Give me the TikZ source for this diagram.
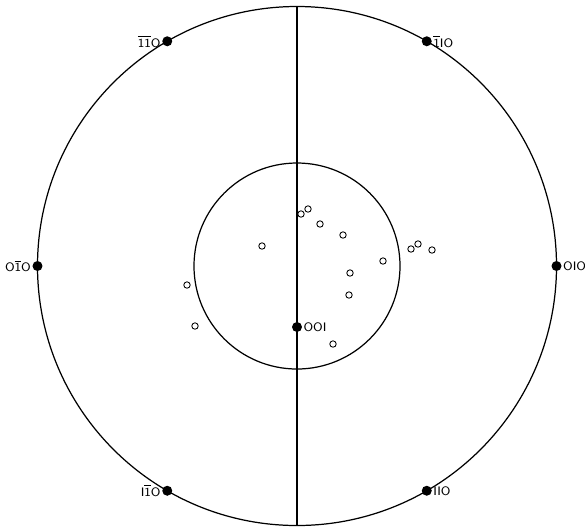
\documentclass[tikz,border=0pt]{standalone}
\usepackage{tikz}
\usetikzlibrary{positioning}
\newcommand{\nb}{$\overline{\mbox{1}}$}

\begin{document}
\begin{tikzpicture}[scale=0.02,
    pole/.style={circle, fill=black, inner sep=0pt, minimum size=0.2cm},
    lab/.style={font=\sffamily\fontsize{7}{8}\selectfont, inner sep=0.5pt},
    spot/.style={line width=0.5pt}]

    \def\R{259.5}
    \def\r{103}

    \useasboundingbox (-297,-261) rectangle (288,266);

    % --- Primitive and inner circles ---
    \draw[line width=0.7pt] (0,0) circle (\R);
    \draw[line width=0.7pt] (0,0) circle (\r);
    \coordinate (top) at (0,\R);
    \coordinate (bot) at (0,-\R);
    \draw[line width=0.6pt] (top) -- (bot);

    % --- Poles on the primitive ---
    \node[pole] (p1) at (120:\R) {};
    \node[pole] (p2) at (60:\R) {};
    \node[pole] (p3) at (180:\R) {};
    \node[pole] (p4) at (0:\R) {};
    \node[pole] (p5) at (240:\R) {};
    \node[pole] (p6) at (300:\R) {};
    \node[pole] (p7) at (0,-61) {};

    % --- Labels ---
    \node[lab, left=0pt of p1] (l1) {\nb\nb O};
    \node[lab, right=0pt of p2] (l2) {\nb IO};
    \node[lab, left=0pt of p3] (l3) {O\nb O};
    \node[lab, right=0pt of p4] (l4) {OIO};
    \node[lab, left=0pt of p5] (l5) {I\nb O};
    \node[lab, right=0pt of p6] (l6) {IIO};
    \node[lab, right=0pt of p7] (l7) {OOI};

    % --- Measured poles ---
    \foreach \x/\y in {4/52, 11/57, 23/42, 46/31, -35/20, 114/17, 121/22,
                       135/16, 86/5, 53/-7, -110/-19, 52/-29, -102/-60, 36/-78}
        \draw[spot] (\x,\y) circle (3.2);

\end{tikzpicture}
\end{document}
